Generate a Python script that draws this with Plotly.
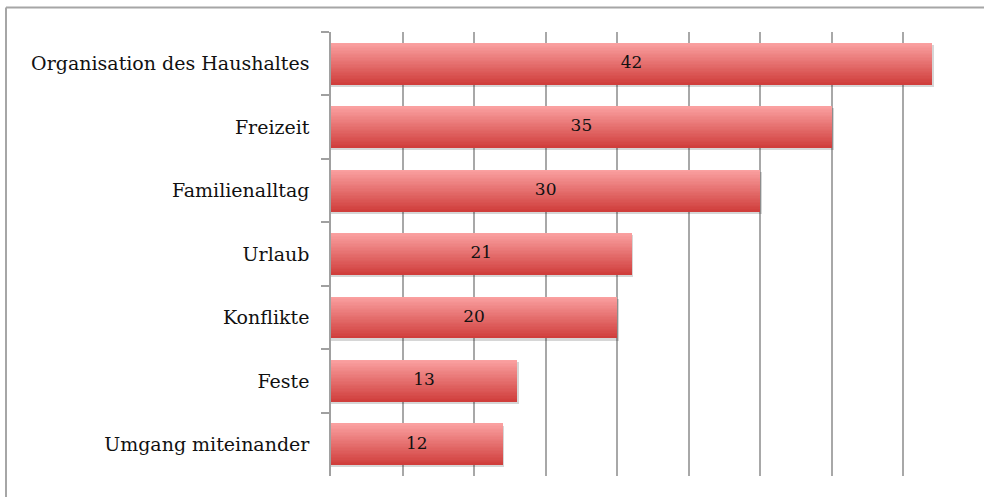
import plotly.graph_objects as go

categories = ["Organisation des Haushaltes", "Freizeit", "Familienalltag",
              "Urlaub", "Konflikte", "Feste", "Umgang miteinander"]
values = [42, 35, 30, 21, 20, 13, 12]
value_labels = [str(v) for v in values]

W, H = 989, 497
ML, MR, MT, MB = 331, 14, 32, 21

bar_w = 0.66
n_strips = 30
top_rgb = (250, 160, 160)
bot_rgb = (208, 62, 60)

fig = go.Figure()

# subtle drop shadow
fig.add_trace(go.Bar(
    y=categories, x=[v + 0.12 for v in values], orientation="h",
    width=bar_w, offset=-bar_w / 2 + 0.035,
    marker=dict(color="rgba(0,0,0,0.16)", line=dict(width=0)),
    hoverinfo="skip", showlegend=False))

# vertical gradient made of horizontal strips
for k in range(n_strips):
    t = k / (n_strips - 1)
    c = tuple(round(top_rgb[i] + (bot_rgb[i] - top_rgb[i]) * t) for i in range(3))
    fig.add_trace(go.Bar(
        y=categories, x=values, orientation="h",
        width=bar_w / n_strips + (0.02 if k < n_strips - 1 else 0),
        offset=-bar_w / 2 + k * bar_w / n_strips,
        marker=dict(color=f"rgb{c}", line=dict(width=0)),
        hoverinfo="skip", showlegend=False))

fig.add_trace(go.Scatter(
    y=categories, x=[v / 2 for v in values], mode="text",
    text=value_labels, textposition="middle center",
    textfont=dict(family="DejaVu Serif", size=17, color="#111111"),
    hoverinfo="skip", showlegend=False, cliponaxis=False))

fig.update_layout(
    width=W, height=H,
    margin=dict(l=ML, r=MR, t=MT, b=MB, pad=0),
    barmode="overlay", bargap=0,
    plot_bgcolor="white", paper_bgcolor="white",
    font=dict(family="DejaVu Serif", size=19, color="#111111"),
    xaxis=dict(range=[0, 45], dtick=5, showgrid=True, gridcolor="#a8a8a8",
               gridwidth=1.5, showticklabels=False, zeroline=False,
               showline=False, ticks=""),
    yaxis=dict(autorange="reversed", showline=True, linecolor="#a0a0a0",
               linewidth=1.5, ticks="outside", ticklen=8, tickcolor="#a0a0a0",
               tickwidth=1.5, tickson="boundaries", showgrid=False,
               ticklabelstandoff=16),
    shapes=[
        dict(type="line", xref="paper", yref="paper",
             x0=(6 - ML) / (W - ML - MR), x1=(984 - ML) / (W - ML - MR),
             y0=(H - MB - 7.5) / (H - MT - MB), y1=(H - MB - 7.5) / (H - MT - MB),
             line=dict(color="#a6a6a6", width=2)),
        dict(type="line", xref="paper", yref="paper",
             x0=(6 - ML) / (W - ML - MR), x1=(6 - ML) / (W - ML - MR),
             y0=(H - MB - 7.5) / (H - MT - MB), y1=(-MB - 5) / (H - MT - MB),
             line=dict(color="#a6a6a6", width=2)),
    ],
)

fig.write_html("out.html",
               config={"displayModeBar": False},
               post_script="document.body.style.margin='0';document.body.style.overflow='hidden';")
